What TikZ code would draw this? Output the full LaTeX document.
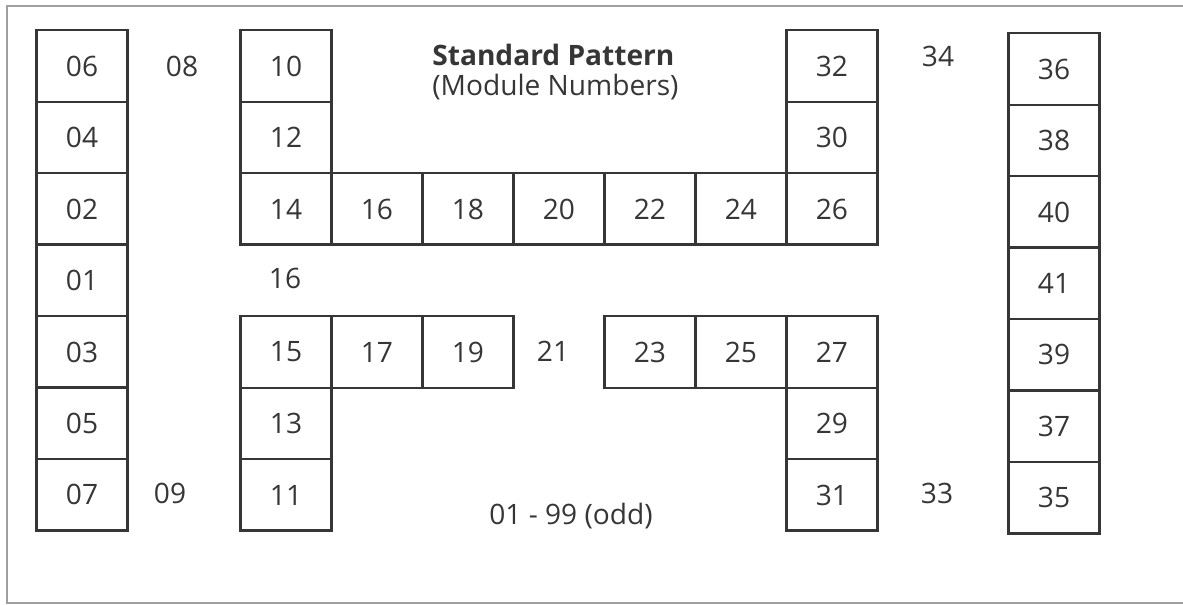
\documentclass[tikz,border=0pt]{standalone}
\usepackage{fontspec}
\setmainfont{Open Sans}
\usetikzlibrary{positioning}
\definecolor{inkgray}{HTML}{363636}
\tikzset{
  module/.style={draw=inkgray, line width=1.4pt, minimum width=1.82cm, minimum height=1.43cm, outer sep=0pt, inner sep=0pt, text=inkgray, font=\fontsize{16}{19}\selectfont},
  free/.style={text=inkgray, font=\fontsize{16}{19}\selectfont},
  heading/.style={text=inkgray, align=left, anchor=west, inner sep=0pt, font=\fontsize{16}{16.6}\selectfont},
  frame/.style={draw=gray!75, line width=0.8pt}
}

\begin{document}
\begin{tikzpicture}[x=0.02cm, y=-0.02cm, node distance=0pt]
  \useasboundingbox (0,0) rectangle (1183,605);
  \draw[frame] (1183,6) -- (7,6) -- (7,603) -- (1183,603);

  % left column
  \node[module] (m06) at (82,66) {06};
  \node[module, below=of m06] (m04) {04};
  \node[module, below=of m04] (m02) {02};
  \node[module, below=of m02] (m01) {01};
  \node[module, below=of m01] (m03) {03};
  \node[module, below=of m03] (m05) {05};
  \node[module, below=of m05] (m07) {07};

  % upper block
  \node[module] (m10) at (286,66) {10};
  \node[module, below=of m10] (m12) {12};
  \node[module, below=of m12] (m14) {14};
  \node[module, right=of m14] (m16) {16};
  \node[module, right=of m16] (m18) {18};
  \node[module, right=of m18] (m20) {20};
  \node[module, right=of m20] (m22) {22};
  \node[module, right=of m22] (m24) {24};
  \node[module, right=of m24] (m26) {26};
  \node[module, above=of m26] (m30) {30};
  \node[module, above=of m30] (m32) {32};

  % lower block
  \node[module] (m15) at (286,352) {15};
  \node[module, right=of m15] (m17) {17};
  \node[module, right=of m17] (m19) {19};
  \node[module, below=of m15] (m13) {13};
  \node[module, below=of m13] (m11) {11};
  \node[module, right=1.82cm of m19] (m23) {23};
  \node[module, right=of m23] (m25) {25};
  \node[module, right=of m25] (m27) {27};
  \node[module, below=of m27] (m29) {29};
  \node[module, below=of m29] (m31) {31};

  % right column
  \node[module] (m36) at (1054,69) {36};
  \node[module, below=of m36] (m38) {38};
  \node[module, below=of m38] (m40) {40};
  \node[module, below=of m40] (m41) {41};
  \node[module, below=of m41] (m39) {39};
  \node[module, below=of m39] (m37) {37};
  \node[module, below=of m37] (m35) {35};

  % free positions
  \node[free] (p08) at (182,66) {08};
  \node[free] (p09) at (170,493) {09};
  \node[free] (p16) at (285,278) {16};
  \node[free] (p21) at (553,351) {21};
  \node[free] (p34) at (938,56) {34};
  \node[free] (p33) at (937,493) {33};

  \node[heading] (title) at (432,72) {\bfseries Standard Pattern\\(Module Numbers)};
  \node[free] (odd) at (571,516) {01 - 99 (odd)};
\end{tikzpicture}
\end{document}
